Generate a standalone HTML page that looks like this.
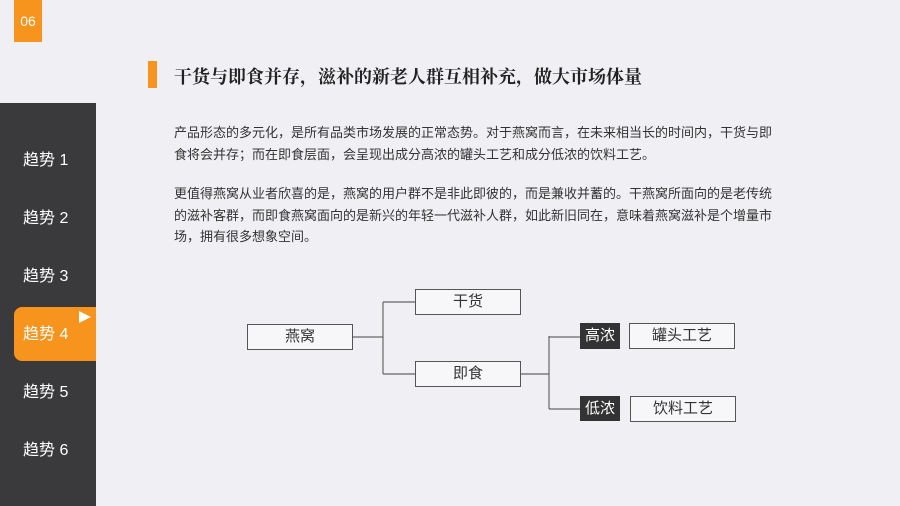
<!DOCTYPE html>
<html><head><meta charset="utf-8"><style>
body{margin:0;width:900px;height:506px;background:#f0f0f4;position:relative;overflow:hidden;font-family:"Liberation Sans","Noto Sans CJK SC",sans-serif;}
.a{position:absolute;}
.badge{left:14px;top:0;width:28px;height:42px;background:#f7941d;color:#fff;font-size:14px;text-align:center;line-height:42px;}
.side{left:0;top:103px;width:96px;height:403px;background:#3a3a3c;}
.it{position:absolute;left:23px;color:#fff;font-size:16px;line-height:20px;}
.act{left:14px;top:307px;width:82px;height:54px;background:#f7941d;border-radius:8px 0 0 8px;}
.p{left:174px;font-size:13px;color:#333;white-space:nowrap;line-height:21.5px;}
.box{position:absolute;border:1px solid #555;background:#f7f7f9;text-align:center;font-size:15px;color:#333;box-sizing:border-box;}
.dk{position:absolute;background:#333;color:#fff;text-align:center;font-size:15px;}
</style></head><body>
<div class="a badge">06</div>
<div class="a" style="left:148px;top:61px;width:9px;height:27px;background:#f7941d"></div>
<div class="a" style="left:174px;top:63px;font-family:'Liberation Serif','Noto Serif CJK SC',serif;font-size:18px;font-weight:bold;color:#222;white-space:nowrap">干货与即食并存，滋补的新老人群互相补充，做大市场体量</div>
<div class="a side"></div>
<div class="a act"></div>
<svg class="a" style="left:78px;top:310px" width="14" height="14"><polygon points="1,1 13,7 1,13" fill="#fff"/></svg>
<div class="it" style="top:151px">趋势 1</div>
<div class="it" style="top:209px">趋势 2</div>
<div class="it" style="top:267px">趋势 3</div>
<div class="it" style="top:325px">趋势 4</div>
<div class="it" style="top:383px">趋势 5</div>
<div class="it" style="top:441px">趋势 6</div>
<div class="a p" style="top:122px">产品形态的多元化，是所有品类市场发展的正常态势。对于燕窝而言，在未来相当长的时间内，干货与即<br>食将会并存；而在即食层面，会呈现出成分高浓的罐头工艺和成分低浓的饮料工艺。</div>
<div class="a p" style="top:183px">更值得燕窝从业者欣喜的是，燕窝的用户群不是非此即彼的，而是兼收并蓄的。干燕窝所面向的是老传统<br>的滋补客群，而即食燕窝面向的是新兴的年轻一代滋补人群，如此新旧同在，意味着燕窝滋补是个增量市<br>场，拥有很多想象空间。</div>
<svg class="a" style="left:0;top:0" width="900" height="506">
<g stroke="#666" stroke-width="1.2" fill="none">
<line x1="353" y1="337" x2="383" y2="337"/>
<line x1="383" y1="302" x2="383" y2="374"/>
<line x1="383" y1="302" x2="415" y2="302"/>
<line x1="383" y1="374" x2="415" y2="374"/>
<line x1="520" y1="374" x2="549" y2="374"/>
<line x1="549" y1="336" x2="549" y2="409"/>
<line x1="549" y1="337" x2="580" y2="337"/>
<line x1="549" y1="409" x2="580" y2="409"/>
</g></svg>
<div class="box" style="left:247px;top:324px;width:106px;height:26px;line-height:24px">燕窝</div>
<div class="box" style="left:415px;top:289px;width:106px;height:26px;line-height:24px">干货</div>
<div class="box" style="left:415px;top:361px;width:106px;height:26px;line-height:24px">即食</div>
<div class="dk" style="left:580px;top:323px;width:40px;height:26px;line-height:26px">高浓</div>
<div class="dk" style="left:580px;top:396px;width:40px;height:25px;line-height:25px">低浓</div>
<div class="box" style="left:629px;top:323px;width:106px;height:26px;line-height:24px">罐头工艺</div>
<div class="box" style="left:630px;top:396px;width:106px;height:26px;line-height:24px">饮料工艺</div>
</body></html>
